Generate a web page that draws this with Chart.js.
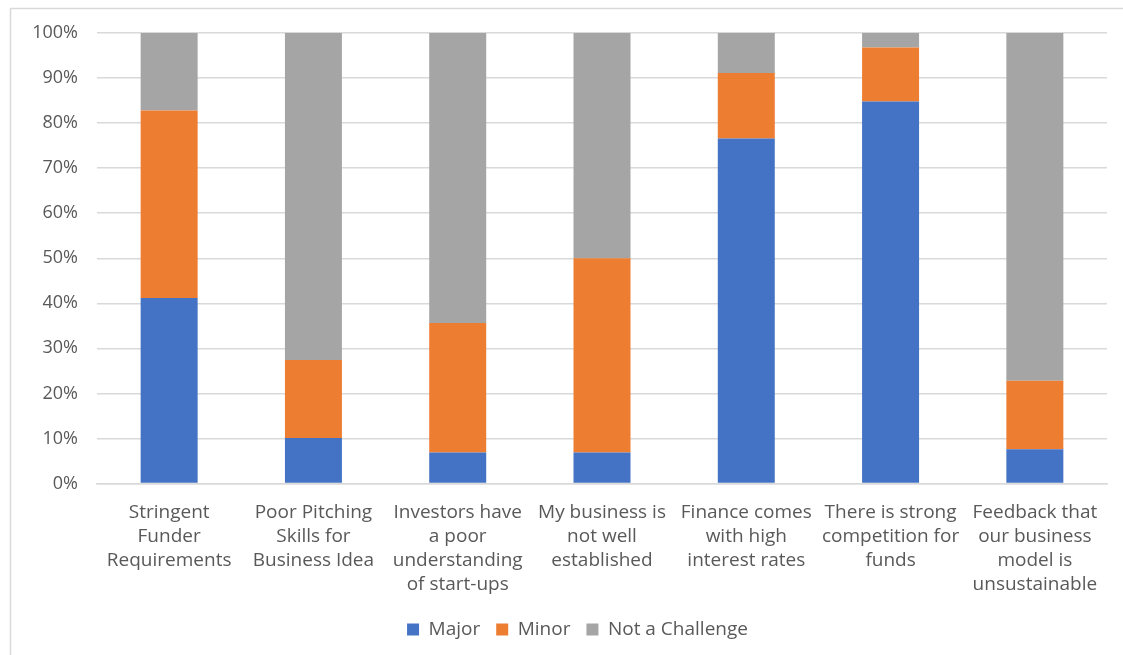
<!DOCTYPE html>
<html>
<head>
<meta charset="utf-8">
<script src="https://cdn.jsdelivr.net/npm/chart.js@4/dist/chart.umd.min.js"></script>
<style>
  html, body { margin: 0; padding: 0; background: #fff; }
  #wrap { width: 1123px; height: 655px; }
</style>
</head>
<body>
<div id="wrap"><canvas id="challenges" width="1123" height="655"></canvas></div>
<script>
  "use strict";

  // Data
  var categories = [
    ["Stringent", "Funder", "Requirements"],
    ["Poor Pitching", "Skills for", "Business Idea"],
    ["Investors have", "a poor", "understanding", "of start-ups"],
    ["My business is", "not well", "established"],
    ["Finance comes", "with high", "interest rates"],
    ["There is strong", "competition for", "funds"],
    ["Feedback that", "our business", "model is", "unsustainable"]
  ];
  var major = [41.2, 10.1, 6.9, 6.9, 76.6, 84.8, 7.6];
  var minor = [41.6, 17.3, 28.7, 43.1, 14.5, 12.0, 15.2];
  var notChallenge = [17.2, 72.6, 64.4, 50.0, 8.9, 3.2, 77.2];
  var yTicks = [0, 10, 20, 30, 40, 50, 60, 70, 80, 90, 100];

  var textColor = "#595959";
  var gridColor = "#d9d9d9";
  var fontFamily = "'Open Sans', Lato, sans-serif";

  // frame around chart (top + left edges as in the screenshot)
  var framePlugin = {
    id: "frame",
    afterLayout: function (chart) {
      // legend sits a little right of centre in the original
      if (chart.legend) chart.legend.left += 38;
    },
    beforeDraw: function (chart) {
      var ctx = chart.ctx;
      ctx.save();
      ctx.fillStyle = "#ffffff";
      ctx.fillRect(0, 0, chart.width, chart.height);
      ctx.strokeStyle = gridColor;
      ctx.lineWidth = 1.5;
      ctx.beginPath();
      ctx.moveTo(10.5, chart.height);
      ctx.lineTo(10.5, 8.5);
      ctx.lineTo(chart.width, 8.5);
      ctx.stroke();
      ctx.restore();
    }
  };

  var ctx = document.getElementById("challenges").getContext("2d");
  var myChart = new Chart(ctx, {
    type: "bar",
    data: {
      labels: categories,
      datasets: [
        { label: "Major", data: major, backgroundColor: "#4472C4" },
        { label: "Minor", data: minor, backgroundColor: "#ED7D31" },
        { label: "Not a Challenge", data: notChallenge, backgroundColor: "#A5A5A5" }
      ]
    },
    options: {
      responsive: false,
      animation: false,
      layout: { padding: { left: 10, right: 16, top: 33, bottom: 6 } },
      datasets: { bar: { categoryPercentage: 1, barPercentage: 0.395 } },
      scales: {
        x: {
          stacked: true,
          grid: { display: false },
          border: { display: true, color: gridColor, width: 1.5 },
          ticks: {
            color: textColor,
            font: { family: fontFamily, size: 19, lineHeight: 24 / 19 },
            padding: 9.5,
            maxRotation: 0,
            autoSkip: false
          },
          afterFit: function (scale) { scale.height = 120.5; }
        },
        y: {
          stacked: true,
          min: 0,
          max: 100,
          afterBuildTicks: function (scale) {
            scale.ticks = yTicks.map(function (v) { return { value: v }; });
          },
          grid: { color: gridColor, lineWidth: 1.5, drawTicks: false },
          border: { display: false },
          ticks: {
            color: textColor,
            font: { family: fontFamily, size: 18 },
            padding: 19,
            callback: function (v) { return v + "%"; }
          },
          afterFit: function (scale) { scale.width = 87; }
        }
      },
      plugins: {
        legend: {
          position: "bottom",
          labels: {
            color: textColor,
            font: { family: fontFamily, size: 19 },
            boxWidth: 12,
            boxHeight: 12,
            padding: 16
          }
        },
        tooltip: { enabled: false }
      }
    },
    plugins: [framePlugin]
  });
</script>
</body>
</html>
